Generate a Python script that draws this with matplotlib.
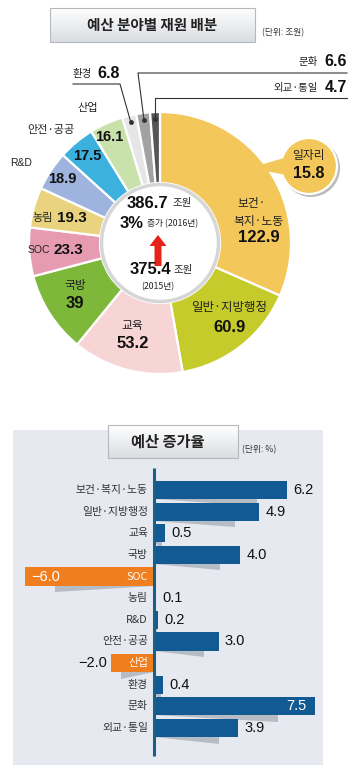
import numpy as np
import matplotlib.pyplot as plt
from matplotlib.patches import Circle, Rectangle, Polygon
from matplotlib.colors import LinearSegmentedColormap

plt.rcParams['font.family'] = ['Noto Sans CJK KR', 'DejaVu Sans']
NUM = 'Liberation Sans'

# --- data ---
sectors = ['보건·복지·노동', '일반·지방행정', '교육', '국방', 'SOC', '농림',
           'R&D', '안전·공공', '산업', '환경', '문화', '외교·통일']
budget = [122.9, 60.9, 53.2, 39, 23.3, 19.3, 18.9, 17.5, 16.1, 6.8, 6.6, 4.7]   # 조원
growth = [6.2, 4.9, 0.5, 4.0, -6.0, 0.1, 0.2, 3.0, -2.0, 0.4, 7.5, 3.9]          # %
total_2016 = 386.7
total_2015 = 375.4
total_growth = 3
jobs_budget = 15.8

pie_colors = ['#F4C75B', '#C6CB2C', '#F7D5D5', '#7DB83B', '#E79BB2', '#EAD37E',
              '#9EB4DF', '#3DB1DE', '#C9E1AA', '#E6E6E6', '#A2A2A2', '#555555']

W, H = 358, 775
fig = plt.figure(figsize=(W / 100, H / 100), dpi=100)
ax = fig.add_axes([0, 0, 1, 1])


def Y(py):
    return H - py


def title_box(x0, y0, x1, y1):
    box = Rectangle((x0, Y(y1)), x1 - x0, y1 - y0, fc='none', ec='#B5B9BE', lw=0.8, zorder=7)
    ax.add_patch(box)
    cmap = LinearSegmentedColormap.from_list('g', ['#FFFFFF', '#DADDE1'])
    im = ax.imshow(np.linspace(0, 1, 50).reshape(-1, 1), extent=(x0, x1, Y(y1), Y(y0)),
                   cmap=cmap, origin='upper', aspect='auto', zorder=6)
    im.set_clip_path(box)


# -------------------------------------------------------------------------
# donut
# -------------------------------------------------------------------------
cx, cy, R, r_in = 160, Y(243), 131, 60
wedges, _ = ax.pie(budget, colors=pie_colors, startangle=90, counterclock=False,
                   center=(cx, cy), radius=R,
                   wedgeprops=dict(width=R - r_in, edgecolor='white', linewidth=1.6))
ax.add_patch(Circle((cx, cy), r_in - 1.5, fc='white', ec='#D6D6D6', lw=2.5, zorder=3))

title_box(50, 8, 255, 42)
ax.text(152, Y(25), '예산 분야별 재원 배분', ha='center', va='center', fontsize=10.5,
        fontweight='bold', color='#222222', zorder=8)
ax.text(283, Y(33), '(단위: 조원)', ha='center', va='center', fontsize=6.3, color='#333333')

# labels inside / around the donut
txt = dict(va='center', zorder=8, color='#222222')
big = dict(va='center', zorder=8, color='#111111', family=NUM, fontweight='bold')
ax.text(252, Y(204), '보건·', ha='center', fontsize=8.5, **txt)
ax.text(258, Y(221), '복지·노동', ha='center', fontsize=8.5, **txt)
ax.text(259, Y(238), f'{budget[0]:g}', ha='center', fontsize=12, **big)
ax.text(229, Y(308), sectors[1], ha='center', fontsize=9, **txt)
ax.text(230, Y(327), f'{budget[1]:g}', ha='center', fontsize=12, **big)
ax.text(132, Y(325), sectors[2], ha='center', fontsize=8.5, **txt)
ax.text(133, Y(343), f'{budget[2]:g}', ha='center', fontsize=12, **big)
ax.text(75, Y(285), sectors[3], ha='center', fontsize=8.5, **txt)
ax.text(75, Y(303), f'{budget[3]:g}', ha='center', fontsize=12, **big)
ax.text(50, Y(250), sectors[4], ha='right', fontsize=7.5, family=NUM, va='center', zorder=8, color='#222222')
ax.text(53, Y(250), f'{budget[4]:g}', ha='left', fontsize=11, **big)
ax.text(53, Y(218), sectors[5], ha='right', fontsize=8, **txt)
ax.text(57, Y(218), f'{budget[5]:g}', ha='left', fontsize=11, **big)
ax.text(21, Y(163), sectors[6], ha='center', fontsize=7.5, family=NUM, va='center', color='#222222')
ax.text(62, Y(179), f'{budget[6]:g}', ha='center', fontsize=10.5, **big)
ax.text(51, Y(130), sectors[7], ha='center', fontsize=8, **txt)
ax.text(87, Y(156), f'{budget[7]:g}', ha='center', fontsize=10.5, **big)
ax.text(88, Y(108), sectors[8], ha='center', fontsize=8, **txt)
ax.text(109, Y(137), f'{budget[8]:g}', ha='center', fontsize=10.5, **big)

# leader lines for the thin slices, anchored on the wedge mid-angle
def anchor(i, r=124):
    w = wedges[i]
    a = np.deg2rad((w.theta1 + w.theta2) / 2)
    return cx + r * np.cos(a), cy + r * np.sin(a)

lc = '#333333'
ex, ey = anchor(9)
ax.plot([73, 120, ex], [Y(84), Y(84), ey], color=lc, lw=0.8, zorder=8)
ax.plot(ex, ey, 'o', ms=2.5, color=lc, zorder=8)
ax.text(73, Y(74), sectors[9], ha='left', fontsize=7.5, **txt)
ax.text(97, Y(74), f'{budget[9]:.1f}', ha='left', fontsize=11.5, **big)

ex, ey = anchor(10)
ax.plot([347, 138, ex], [Y(73), Y(73), ey], color=lc, lw=0.8, zorder=8)
ax.plot(ex, ey, 'o', ms=2.5, color=lc, zorder=8)
ax.text(318, Y(62), sectors[10], ha='right', fontsize=7.5, **txt)
ax.text(347, Y(62), f'{budget[10]:.1f}', ha='right', fontsize=11.5, **big)

ex, ey = anchor(11)
ax.plot([347, ex, ex], [Y(98), Y(98), ey], color=lc, lw=0.8, zorder=8)
ax.plot(ex, ey, 'o', ms=2.5, color=lc, zorder=8)
ax.text(318, Y(88), sectors[11], ha='right', fontsize=7.5, **txt)
ax.text(347, Y(88), f'{budget[11]:.1f}', ha='right', fontsize=11.5, **big)

# 일자리 callout
bx, by, br = 309, Y(166), 28
ax.add_patch(Circle((bx + 2, by - 2), br + 1, fc='#BBBBBB', ec='none', zorder=8))
ax.add_patch(Circle((bx, by), br, fc=pie_colors[0], ec='white', lw=1.6, zorder=9))
ax.add_patch(Polygon([(284, Y(158)), (250, Y(168)), (286, Y(175))], closed=True,
                     fc=pie_colors[0], ec='none', zorder=9))
ax.text(bx, Y(155), '일자리', ha='center', fontsize=8.5, va='center', zorder=10, color='#222222')
ax.text(bx, Y(173), f'{jobs_budget:g}', ha='center', fontsize=11.5, va='center', zorder=10,
        color='#111111', family=NUM, fontweight='bold')

# centre of the donut
ax.text(147, Y(203), f'{total_2016:g}', ha='center', fontsize=12, **big)
ax.text(182, Y(203), '조원', ha='center', fontsize=7.5, **txt)
ax.text(132, Y(223), f'{total_growth}%', ha='center', fontsize=12, **big)
ax.text(173, Y(224), '증가 (2016년)', ha='center', fontsize=6.3, **txt)
ax.arrow(158, Y(266), 0, 31, width=7, head_width=17, head_length=11,
         length_includes_head=True, fc='#E5231B', ec='none', zorder=8)
ax.text(150, Y(270), f'{total_2015:g}', ha='center', fontsize=12, **big)
ax.text(183, Y(270), '조원', ha='center', fontsize=7.5, **txt)
ax.text(158, Y(287), '(2015년)', ha='center', fontsize=6.3, **txt)

# -------------------------------------------------------------------------
# growth-rate bars
# -------------------------------------------------------------------------
ax.add_patch(Rectangle((13, Y(765)), 310, 335, fc='#E6EAF0', ec='none', zorder=0.5))
title_box(108, 425, 238, 458)
ax.text(168, Y(442), '예산 증가율', ha='center', va='center', fontsize=11,
        fontweight='bold', color='#222222', zorder=8)
ax.text(259, Y(450), '(단위: %)', ha='center', va='center', fontsize=6.3, color='#333333')

ax.set_xlim(0, W)
ax.set_ylim(0, H)
ax.set_aspect('auto')
ax.axis('off')

px_unit, row = 21.5, 21.64
ax2 = fig.add_axes([13 / W, (H - 765) / H, 310 / W, 335 / H])
ax2.patch.set_alpha(0)
idx = np.arange(len(sectors))
bar_colors = ['#F07D1E' if v < 0 else '#135A92' for v in growth]
ax2.barh(idx, growth, height=0.84, color=bar_colors, zorder=3)
for i, v in enumerate(growth):
    ax2.add_patch(Polygon([(0, i + 0.42), (0.77 * v, i + 0.42), (0.77 * v, i + 0.72)],
                          closed=True, fc='#B6BCC4', ec='none', zorder=2))
ax2.plot([0, 0], [-(490 - 468) / row, 11 + (756 - 728) / row], color='#1A5F86', lw=2.2,
         solid_capstyle='butt', zorder=4)

for i, (name, v) in enumerate(zip(sectors, growth)):
    ax2.text(-0.28, i, name, ha='right', va='center', fontsize=7.8,
             color='white' if v < 0 else '#333333', zorder=5)
    s = f'{v:.1f}'.replace('-', '−')
    num = dict(va='center', fontsize=10.5, family=NUM, zorder=5)
    if v < -4:
        ax2.text(v + 0.28, i, s, ha='left', color='white', **num)
    elif v < 0:
        ax2.text(v - 0.2, i, s, ha='right', color='#111111', **num)
    elif v > 7:
        ax2.text(v - 0.4, i, s, ha='right', color='white', **num)
    else:
        ax2.text(v + 0.3, i, s, ha='left', color='#111111', **num)

ax2.set_xlim((13 - 154) / px_unit, (323 - 154) / px_unit)
ax2.set_ylim(11 + (765 - 728) / row, -(490 - 430) / row)
ax2.axis('off')

fig.savefig('out.png', dpi=100)
